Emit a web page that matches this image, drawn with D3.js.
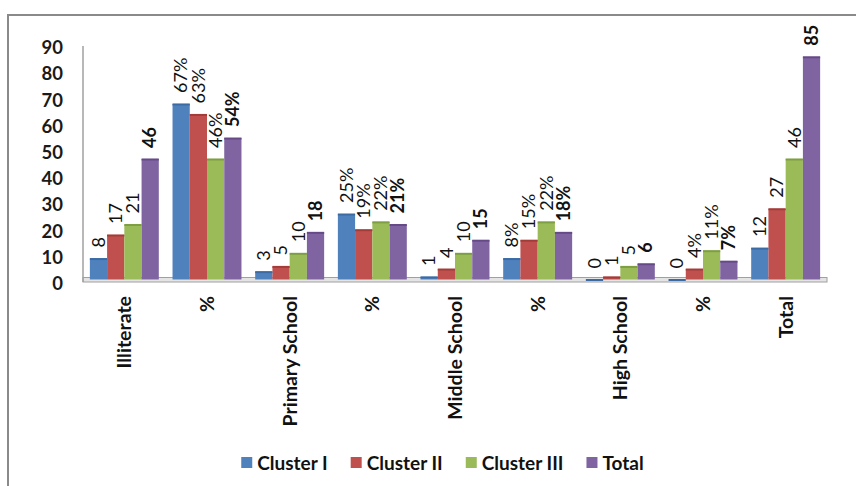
<!DOCTYPE html>
<html>
<head>
<meta charset="utf-8">
<script src="https://cdn.jsdelivr.net/npm/d3@7"></script>
<style>
  body { margin: 0; background: #fff; }
  svg { display: block; }
</style>
</head>
<body>
<svg id="chart"></svg>
<script>
// DATA ////////////////////////////////////////////////////////////////////////
var categories = ["Illiterate", "%", "Primary School", "%", "Middle School", "%", "High School", "%", "Total"];
var seriesNames = ["Cluster I", "Cluster II", "Cluster III", "Total"];
var cluster1 = [8, 67, 3, 25, 1, 8, 0, 0, 12];
var cluster2 = [17, 63, 5, 19, 4, 15, 1, 4, 27];
var cluster3 = [21, 46, 10, 22, 10, 22, 5, 11, 46];
var totals = [46, 54, 18, 21, 15, 18, 6, 7, 85];
var yTicks = [0, 10, 20, 30, 40, 50, 60, 70, 80, 90];

var COLOURS = ["#4F81BD", "#C0504D", "#9BBB59", "#8064A2"];
var TOP_COLOURS = ["#3C6AA3", "#A33C39", "#7E9E42", "#664A88"];
var FONT = "Lato, 'Open Sans', sans-serif";

var WIDTH = 856, HEIGHT = 486;
var PLOT_LEFT = 83, PLOT_RIGHT = 827, Y_ZERO = 279.5, Y_TOP = 43.7;

var seriesValues = [cluster1, cluster2, cluster3, totals];

// SETUP ///////////////////////////////////////////////////////////////////////
var svg = d3.select("#chart")
    .attr("width", WIDTH)
    .attr("height", HEIGHT);

// outer frame (only top and left edges visible)
svg.append("path")
    .attr("d", "M8," + HEIGHT + "V15H" + WIDTH)
    .attr("fill", "none")
    .attr("stroke", "#8a8a8a")
    .attr("stroke-width", 2);

var x = d3.scaleBand()
    .domain(d3.range(categories.length))
    .range([PLOT_LEFT, PLOT_RIGHT])
    .paddingInner(0.166)
    .paddingOuter(0.083);

var xs = d3.scaleBand()
    .domain(seriesNames)
    .range([0, x.bandwidth()]);

var y = d3.scaleLinear()
    .domain([0, 90])
    .range([Y_ZERO, Y_TOP]);

// floor slab
svg.append("rect")
    .attr("x", PLOT_LEFT)
    .attr("y", y(0) - 2)
    .attr("width", PLOT_RIGHT - PLOT_LEFT)
    .attr("height", 4.5)
    .attr("fill", "#e4e4e4")
    .attr("stroke", "#a0a0a0")
    .attr("stroke-width", 1);

// y axis line
svg.append("line")
    .attr("x1", PLOT_LEFT).attr("x2", PLOT_LEFT)
    .attr("y1", 46).attr("y2", y(0) + 2.5)
    .attr("stroke", "#a0a0a0")
    .attr("stroke-width", 1.5);

// y axis labels (shifted a little down, like the 3d chart)
var yAxis = svg.append("g")
    .attr("transform", "translate(63,4)")
    .call(d3.axisLeft(y).tickValues(yTicks).tickSize(0).tickPadding(0));
yAxis.select(".domain").remove();
yAxis.selectAll("text")
    .attr("font-family", FONT)
    .attr("font-size", 18.5)
    .attr("font-weight", "bold")
    .attr("fill", "#1a1a1a");

// BARS ////////////////////////////////////////////////////////////////////////
var rows = categories.map(function (c, i) {
    return seriesNames.map(function (s, j) {
        return { cat: i, series: s, idx: j, value: seriesValues[j][i], pct: c === "%" };
    });
});

var groups = svg.append("g")
    .selectAll("g")
    .data(rows)
    .enter().append("g")
    .attr("transform", function (d, i) { return "translate(" + x(i) + ",0)"; });

groups.selectAll("rect.bar")
    .data(function (d) { return d; })
    .enter().append("rect")
    .attr("class", "bar")
    .attr("x", function (d) { return xs(d.series); })
    .attr("y", function (d) { return y(d.value); })
    .attr("width", xs.bandwidth())
    .attr("height", function (d) { return y(0) - y(d.value); })
    .attr("fill", function (d) { return COLOURS[d.idx]; });

// darker top face
groups.selectAll("rect.top")
    .data(function (d) { return d; })
    .enter().append("rect")
    .attr("class", "top")
    .attr("x", function (d) { return xs(d.series); })
    .attr("y", function (d) { return y(d.value) - 0.5; })
    .attr("width", xs.bandwidth())
    .attr("height", 2)
    .attr("fill", function (d) { return TOP_COLOURS[d.idx]; });

// data labels (zero shown without % sign, as in the source)
groups.selectAll("text.lbl")
    .data(function (d) { return d; })
    .enter().append("text")
    .attr("class", "lbl")
    .attr("transform", function (d) {
        return "translate(" + (xs(d.series) + xs.bandwidth() / 2) + "," + (y(d.value) - 11) + ") rotate(-90)";
    })
    .attr("dy", "0.35em")
    .attr("text-anchor", "start")
    .attr("font-family", FONT)
    .attr("font-size", 18)
    .attr("font-weight", function (d) { return d.series === "Total" ? "bold" : "normal"; })
    .attr("fill", "#111")
    .text(function (d) { return d.value + (d.pct && d.value !== 0 ? "%" : ""); });

// CATEGORY AXIS ///////////////////////////////////////////////////////////////
var xAxis = svg.append("g")
    .attr("transform", "translate(0,296)")
    .call(d3.axisBottom(x).tickSize(0).tickPadding(0).tickFormat(function (i) { return categories[i]; }));
xAxis.select(".domain").remove();
xAxis.selectAll("text")
    .attr("transform", "rotate(-90)")
    .attr("y", 0)
    .attr("x", 0)
    .attr("dy", "0.36em")
    .attr("text-anchor", "end")
    .attr("font-family", FONT)
    .attr("font-size", 19.5)
    .attr("font-weight", "bold")
    .attr("fill", "#111");

// LEGEND //////////////////////////////////////////////////////////////////////
var legend = svg.append("g");
var items = legend.selectAll("g")
    .data(seriesNames)
    .enter().append("g");

items.append("rect")
    .attr("width", 11)
    .attr("height", 11)
    .attr("y", 457)
    .attr("fill", function (d, i) { return COLOURS[i]; });

items.append("text")
    .attr("x", 16)
    .attr("y", 469.5)
    .attr("font-family", FONT)
    .attr("font-size", 19)
    .attr("font-weight", "bold")
    .attr("fill", "#111")
    .text(function (d) { return d; });

var offsets = [], pos = 0;
items.each(function () {
    var w = 16 + d3.select(this).select("text").node().getComputedTextLength();
    offsets.push(pos);
    pos += w + 23;
});
var legendStart = 442.5 - (pos - 23) / 2;
items.attr("transform", function (d, i) { return "translate(" + (legendStart + offsets[i]) + ",0)"; });
</script>
</body>
</html>
